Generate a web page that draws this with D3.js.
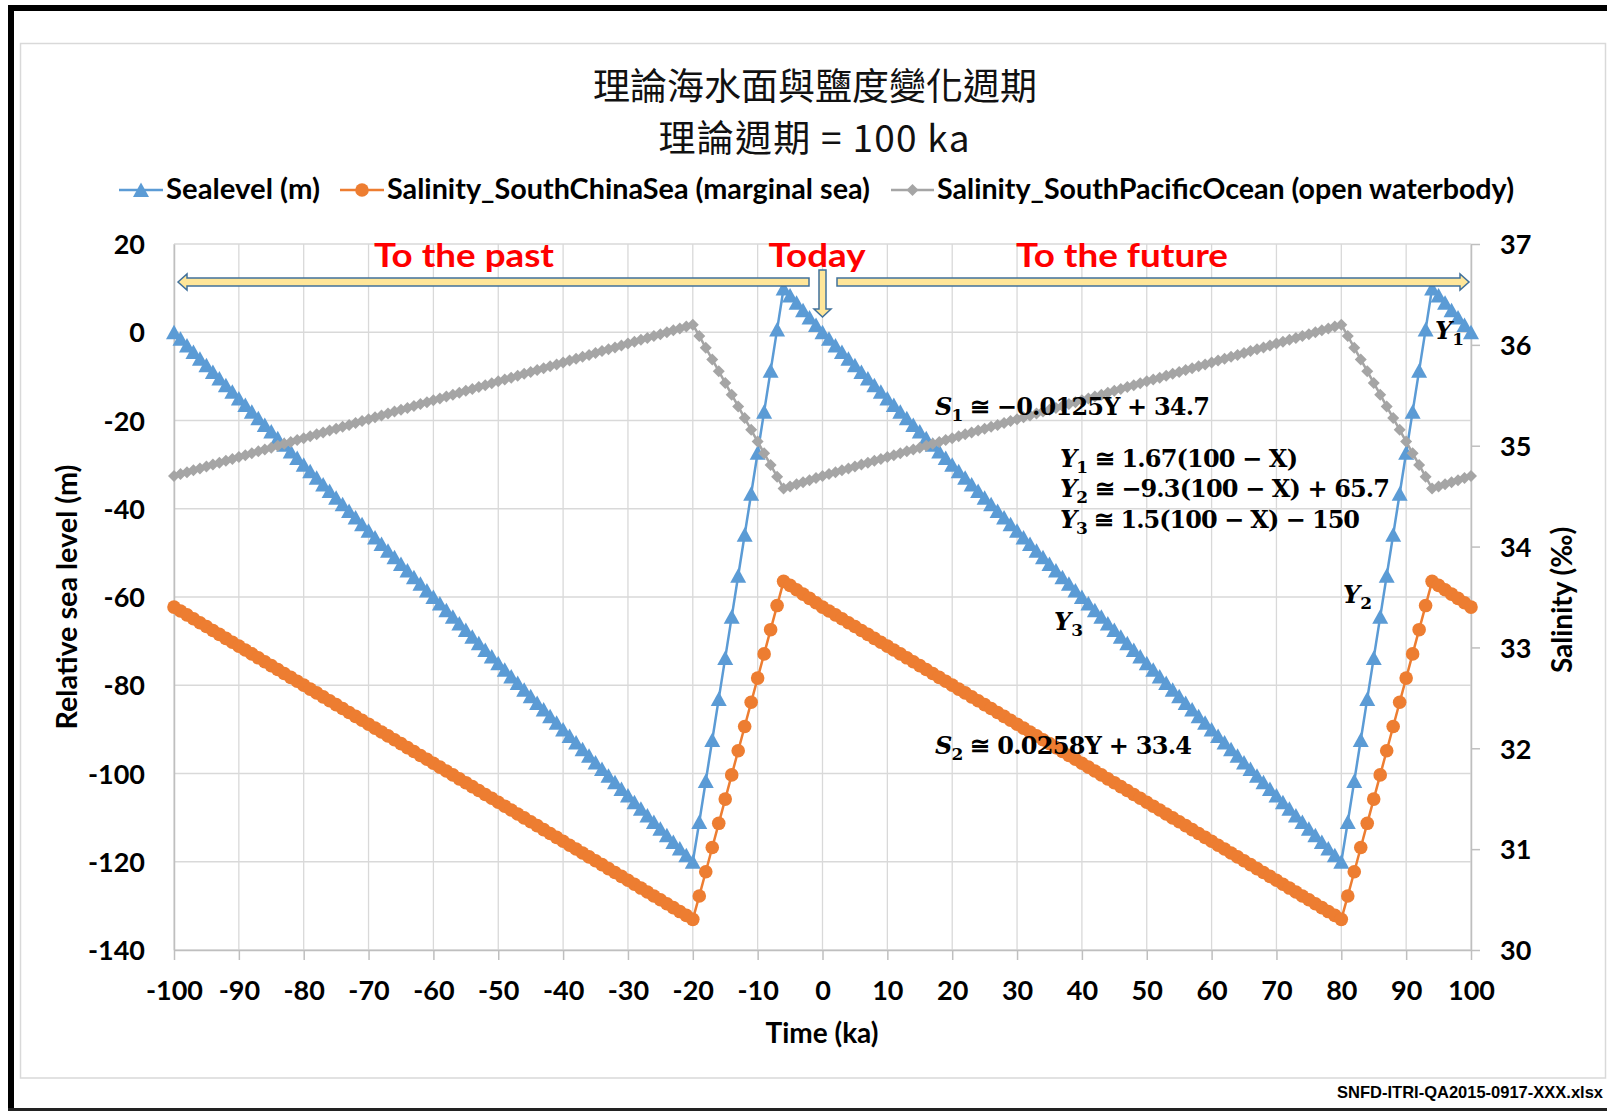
<!DOCTYPE html>
<html><head><meta charset="utf-8">
<script src="https://cdn.jsdelivr.net/npm/d3@7"></script>
<style>body{margin:0;background:#fff}svg{display:block}</style>
</head><body>
<svg id="chart" width="1607" height="1111"></svg>
<script>
// ---------------- DATA ----------------
const time = [-100,-99,-98,-97,-96,-95,-94,-93,-92,-91,-90,-89,-88,-87,-86,-85,-84,-83,-82,-81,-80,-79,-78,-77,-76,-75,-74,-73,-72,-71,-70,-69,-68,-67,-66,-65,-64,-63,-62,-61,-60,-59,-58,-57,-56,-55,-54,-53,-52,-51,-50,-49,-48,-47,-46,-45,-44,-43,-42,-41,-40,-39,-38,-37,-36,-35,-34,-33,-32,-31,-30,-29,-28,-27,-26,-25,-24,-23,-22,-21,-20,-19,-18,-17,-16,-15,-14,-13,-12,-11,-10,-9,-8,-7,-6,-5,-4,-3,-2,-1,0,1,2,3,4,5,6,7,8,9,10,11,12,13,14,15,16,17,18,19,20,21,22,23,24,25,26,27,28,29,30,31,32,33,34,35,36,37,38,39,40,41,42,43,44,45,46,47,48,49,50,51,52,53,54,55,56,57,58,59,60,61,62,63,64,65,66,67,68,69,70,71,72,73,74,75,76,77,78,79,80,81,82,83,84,85,86,87,88,89,90,91,92,93,94,95,96,97,98,99,100];

const sealevel = [0,-1.5,-3,-4.5,-6,-7.5,-9,-10.5,-12,-13.5,-15,-16.5,-18,-19.5,-21,-22.5,-24,-25.5,-27,-28.5,-30,-31.5,-33,-34.5,-36,-37.5,-39,-40.5,-42,-43.5,-45,-46.5,-48,-49.5,-51,-52.5,-54,-55.5,-57,-58.5,-60,-61.5,-63,-64.5,-66,-67.5,-69,-70.5,-72,-73.5,-75,-76.5,-78,-79.5,-81,-82.5,-84,-85.5,-87,-88.5,-90,-91.5,-93,-94.5,-96,-97.5,-99,-100.5,-102,-103.5,-105,-106.5,-108,-109.5,-111,-112.5,-114,-115.5,-117,-118.5,-120,
-111,-101.7,-92.4,-83.1,-73.8,-64.5,-55.2,-45.9,-36.6,-27.3,-18,-8.7,0.6,9.9,
8.35,6.68,5.01,3.34,1.67,0,
-1.5,-3,-4.5,-6,-7.5,-9,-10.5,-12,-13.5,-15,-16.5,-18,-19.5,-21,-22.5,-24,-25.5,-27,-28.5,-30,-31.5,-33,-34.5,-36,-37.5,-39,-40.5,-42,-43.5,-45,-46.5,-48,-49.5,-51,-52.5,-54,-55.5,-57,-58.5,-60,-61.5,-63,-64.5,-66,-67.5,-69,-70.5,-72,-73.5,-75,-76.5,-78,-79.5,-81,-82.5,-84,-85.5,-87,-88.5,-90,-91.5,-93,-94.5,-96,-97.5,-99,-100.5,-102,-103.5,-105,-106.5,-108,-109.5,-111,-112.5,-114,-115.5,-117,-118.5,-120,
-111,-101.7,-92.4,-83.1,-73.8,-64.5,-55.2,-45.9,-36.6,-27.3,-18,-8.7,0.6,9.9,
8.35,6.68,5.01,3.34,1.67,0];

const salinitySCS = [33.4,33.361,33.323,33.284,33.245,33.207,33.168,33.129,33.09,33.052,33.013,32.974,32.936,32.897,32.858,32.82,32.781,32.742,32.703,32.665,32.626,32.587,32.549,32.51,32.471,32.433,32.394,32.355,32.316,32.278,32.239,32.2,32.162,32.123,32.084,32.046,32.007,31.968,31.929,31.891,31.852,31.813,31.775,31.736,31.697,31.659,31.62,31.581,31.542,31.504,31.465,31.426,31.388,31.349,31.31,31.272,31.233,31.194,31.155,31.117,31.078,31.039,31.001,30.962,30.923,30.885,30.846,30.807,30.768,30.73,30.691,30.652,30.614,30.575,30.536,30.498,30.459,30.42,30.381,30.343,30.304,
30.536,30.776,31.016,31.256,31.496,31.736,31.976,32.216,32.456,32.696,32.936,33.176,33.415,33.655,
33.615,33.572,33.529,33.486,33.443,33.4,
33.361,33.323,33.284,33.245,33.207,33.168,33.129,33.09,33.052,33.013,32.974,32.936,32.897,32.858,32.82,32.781,32.742,32.703,32.665,32.626,32.587,32.549,32.51,32.471,32.433,32.394,32.355,32.316,32.278,32.239,32.2,32.162,32.123,32.084,32.046,32.007,31.968,31.929,31.891,31.852,31.813,31.775,31.736,31.697,31.659,31.62,31.581,31.542,31.504,31.465,31.426,31.388,31.349,31.31,31.272,31.233,31.194,31.155,31.117,31.078,31.039,31.001,30.962,30.923,30.885,30.846,30.807,30.768,30.73,30.691,30.652,30.614,30.575,30.536,30.498,30.459,30.42,30.381,30.343,30.304,
30.536,30.776,31.016,31.256,31.496,31.736,31.976,32.216,32.456,32.696,32.936,33.176,33.415,33.655,
33.615,33.572,33.529,33.486,33.443,33.4];

const salinitySPO = [34.7,34.719,34.738,34.756,34.775,34.794,34.813,34.831,34.85,34.869,34.888,34.906,34.925,34.944,34.963,34.981,35,35.019,35.038,35.056,35.075,35.094,35.113,35.131,35.15,35.169,35.188,35.206,35.225,35.244,35.263,35.281,35.3,35.319,35.338,35.356,35.375,35.394,35.413,35.431,35.45,35.469,35.488,35.506,35.525,35.544,35.563,35.581,35.6,35.619,35.638,35.656,35.675,35.694,35.713,35.731,35.75,35.769,35.788,35.806,35.825,35.844,35.863,35.881,35.9,35.919,35.938,35.956,35.975,35.994,36.013,36.031,36.05,36.069,36.088,36.106,36.125,36.144,36.163,36.181,36.2,
36.088,35.971,35.855,35.739,35.623,35.506,35.39,35.274,35.158,35.041,34.925,34.809,34.693,34.576,
34.596,34.617,34.637,34.658,34.679,34.7,
34.719,34.738,34.756,34.775,34.794,34.813,34.831,34.85,34.869,34.888,34.906,34.925,34.944,34.963,34.981,35,35.019,35.038,35.056,35.075,35.094,35.113,35.131,35.15,35.169,35.188,35.206,35.225,35.244,35.263,35.281,35.3,35.319,35.338,35.356,35.375,35.394,35.413,35.431,35.45,35.469,35.488,35.506,35.525,35.544,35.563,35.581,35.6,35.619,35.638,35.656,35.675,35.694,35.713,35.731,35.75,35.769,35.788,35.806,35.825,35.844,35.863,35.881,35.9,35.919,35.938,35.956,35.975,35.994,36.013,36.031,36.05,36.069,36.088,36.106,36.125,36.144,36.163,36.181,36.2,
36.088,35.971,35.855,35.739,35.623,35.506,35.39,35.274,35.158,35.041,34.925,34.809,34.693,34.576,
34.596,34.617,34.637,34.658,34.679,34.7];

const xTicks = [-100,-90,-80,-70,-60,-50,-40,-30,-20,-10,0,10,20,30,40,50,60,70,80,90,100];
const leftTicks = [-140,-120,-100,-80,-60,-40,-20,0,20];
const rightTicks = [30,31,32,33,34,35,36,37];

const seriesNames = ["Sealevel (m)", "Salinity_SouthChinaSea (marginal sea)", "Salinity_SouthPacificOcean (open waterbody)"];
const seriesColors = ["#5B9BD5", "#ED7D31", "#A5A5A5"];

const titleLines = ["理論海水面與鹽度變化週期", "理論週期 = 100 ka"];
const xAxisTitle = "Time (ka)";
const yLeftTitle = "Relative sea level (m)";
const yRightTitle = "Salinity (‰)";
const periodLabels = ["To the past", "Today", "To the future"];
const footer = "SNFD-ITRI-QA2015-0917-XXX.xlsx";

// ---------------- CHART ----------------
const W = 1607, H = 1111;
const M = {l:174, r:1471, t:244, b:950};
const UI = "Lato, 'Open Sans', 'Liberation Sans', sans-serif";
const MATH = "'DejaVu Serif', 'Liberation Serif', serif";
const CJK = "'Noto Sans CJK TC','Noto Sans CJK SC',sans-serif";
const svg = d3.select("#chart");
const fmt = d => (d < 0 ? "-" + Math.abs(d) : String(d));

const x = d3.scaleLinear().domain([-100,100]).range([M.l, M.r]);
const yL = d3.scaleLinear().domain([-140,20]).range([M.b, M.t]);
const yR = d3.scaleLinear().domain([30,37]).range([M.b, M.t]);

svg.append("rect").attr("width",W).attr("height",H).attr("fill","#fff");
// outer frame
svg.append("rect").attr("x",20.5).attr("y",43.5).attr("width",1585).attr("height",1034.5)
  .attr("fill","none").attr("stroke","#d9d9d9").attr("stroke-width",1.5);
svg.append("rect").attr("x",8).attr("y",5).attr("width",W-8).attr("height",6).attr("fill","#000");
svg.append("rect").attr("x",8).attr("y",5).attr("width",6).attr("height",H-5).attr("fill","#000");
svg.append("rect").attr("x",8).attr("y",H-3).attr("width",W-8).attr("height",3).attr("fill","#222");

// gridlines
const grid = svg.append("g");
grid.selectAll("line.v").data(xTicks).join("line").attr("class","v")
  .attr("x1",d=>x(d)).attr("x2",d=>x(d)).attr("y1",M.t).attr("y2",M.b)
  .attr("stroke","#d9d9d9").attr("stroke-width",1.3);
grid.selectAll("line.h").data(leftTicks).join("line").attr("class","h")
  .attr("x1",M.l).attr("x2",M.r).attr("y1",d=>yL(d)).attr("y2",d=>yL(d))
  .attr("stroke","#d9d9d9").attr("stroke-width",1.3);

function styleAxis(g){
  g.attr("font-family",UI).attr("font-size",27).attr("font-weight","bold");
  g.select(".domain").attr("stroke","#bfbfbf").attr("stroke-width",1.5);
  g.selectAll(".tick line").attr("stroke","#bfbfbf").attr("stroke-width",1.5);
  g.selectAll(".tick text").attr("fill","#000");
}
const gx = svg.append("g").attr("transform",`translate(0,${M.b})`)
  .call(d3.axisBottom(x).tickValues(xTicks).tickFormat(fmt).tickSize(10).tickSizeOuter(0));
styleAxis(gx);
gx.selectAll(".tick text").attr("y",50).attr("dy",0);

const gl = svg.append("g").attr("transform",`translate(${M.l},0)`)
  .call(d3.axisLeft(yL).tickValues(leftTicks).tickFormat(fmt).tickSize(0).tickSizeOuter(0).tickPadding(29));
styleAxis(gl);
gl.selectAll(".tick text").attr("dy","0.36em");

const gr = svg.append("g").attr("transform",`translate(${M.r},0)`)
  .call(d3.axisRight(yR).tickValues(rightTicks).tickFormat(fmt).tickSize(9).tickSizeOuter(0).tickPadding(20));
styleAxis(gr);
gr.selectAll(".tick text").attr("dy","0.36em");

// axis titles
svg.append("text").attr("x",822).attr("y",1043).attr("text-anchor","middle")
  .attr("font-family",UI).attr("font-size",28).attr("font-weight","bold").text(xAxisTitle);
svg.append("text").attr("transform","translate(77,597) rotate(-90)").attr("text-anchor","middle")
  .attr("font-family",UI).attr("font-size",28).attr("font-weight","bold")
  .attr("textLength",265).attr("lengthAdjust","spacingAndGlyphs").text(yLeftTitle);
svg.append("text").attr("transform","translate(1572,600) rotate(-90)").attr("text-anchor","middle")
  .attr("font-family",UI).attr("font-size",28).attr("font-weight","bold").text(yRightTitle);

// marker symbols
const symTri = "M0,-7.5L8,7L-8,7Z";
const symDia = "M0,-6L6,0L0,6L-6,0Z";
function marker(sel, kind, color){
  if(kind===0) sel.append("path").attr("d",symTri).attr("fill",color);
  else if(kind===1) sel.append("circle").attr("r",6.8).attr("fill",color);
  else sel.append("path").attr("d",symDia).attr("fill",color);
}

// series
const series = [
  {vals: sealevel, y: yL},
  {vals: salinitySCS, y: yR},
  {vals: salinitySPO, y: yR}
];
series.forEach((s,i)=>{
  const pts = time.map((t,j)=>[x(t), s.y(s.vals[j])]);
  const g = svg.append("g");
  g.append("path").attr("d", d3.line()(pts)).attr("fill","none")
    .attr("stroke",seriesColors[i]).attr("stroke-width",2.5).attr("stroke-linejoin","round");
  pts.forEach(p=>{
    const m = g.append("g").attr("transform",`translate(${p[0]},${p[1]})`);
    marker(m, i, seriesColors[i]);
  });
});

// title
svg.append("text").attr("x",815).attr("y",84).attr("text-anchor","middle").attr("dominant-baseline","central")
  .attr("font-family",CJK).attr("font-size",37).attr("font-weight",400)
  .attr("fill","#111").text(titleLines[0]);
svg.append("text").attr("x",814).attr("y",136).attr("text-anchor","middle").attr("dominant-baseline","central")
  .attr("font-family",CJK).attr("font-size",37).attr("font-weight",400)
  .attr("fill","#111").attr("textLength",311).text(titleLines[1]);

// legend
const legendPos = [{x0:119,x1:163,tx:166,tw:154},{x0:340,x1:384,tx:387,tw:483},{x0:891,x1:934,tx:937,tw:577}];
seriesNames.forEach((name,i)=>{
  const p = legendPos[i];
  const g = svg.append("g");
  g.append("line").attr("x1",p.x0).attr("x2",p.x1).attr("y1",190).attr("y2",190)
    .attr("stroke",seriesColors[i]).attr("stroke-width",2.5);
  const m = g.append("g").attr("transform",`translate(${(p.x0+p.x1)/2},190)`);
  marker(m, i, seriesColors[i]);
  g.append("text").attr("x",p.tx).attr("y",199).attr("font-family",UI).attr("font-size",28)
    .attr("font-weight","bold").attr("fill","#000")
    .attr("textLength",p.tw).attr("lengthAdjust","spacingAndGlyphs").text(name);
});

// arrows
const arrowStyle = g => g.attr("fill","#FFE699").attr("stroke","#41719C").attr("stroke-width",1.5).attr("stroke-linejoin","miter");
svg.append("path").attr("d","M178,282L187,274L187,278L809,278L809,286L187,286L187,290Z").call(arrowStyle);
svg.append("path").attr("d","M837,278L1460,278L1460,274L1469,282L1460,290L1460,286L837,286Z").call(arrowStyle);
svg.append("path").attr("d","M819,270L826,270L826,309L831,309L822.5,317L814,309L819,309Z").call(arrowStyle);

// period labels
const labPos = [{x:464,w:180},{x:817,w:97},{x:1122,w:212}];
periodLabels.forEach((t,i)=>{
  svg.append("text").attr("x",labPos[i].x).attr("y",267).attr("text-anchor","middle")
    .attr("font-family",UI).attr("font-size",32).attr("font-weight","bold").attr("fill","#FF0000")
    .attr("textLength",labPos[i].w).attr("lengthAdjust","spacingAndGlyphs").text(t);
});

// equations
function eq(x0, y0, parts, tw){
  const t = svg.append("text").attr("x",x0).attr("y",y0).attr("font-family",MATH)
    .attr("font-size",24).attr("font-weight","bold").attr("fill","#000");
  parts.forEach(p=>{
    const s = t.append("tspan").text(p[0]);
    if(p[1]==="v") s.attr("font-style","italic");
    if(p[1]==="sub") s.attr("font-size",17).attr("dy",6);
    if(p[1]==="after") s.attr("dy",-6);
  });
  if(tw) t.attr("textLength",tw);
  return t;
}
eq(935,415,[["S","v"],["1","sub"],["  ≅ −0.0125Y + 34.7","after"]],275);
eq(1060,467,[["Y","v"],["1","sub"],["  ≅ 1.67(100 − X)","after"]],238);
eq(1060,497,[["Y","v"],["2","sub"],["  ≅ −9.3(100 − X) + 65.7","after"]],330);
eq(1060,528,[["Y","v"],["3","sub"],["  ≅ 1.5(100 − X) − 150","after"]],300);
eq(935,754,[["S","v"],["2","sub"],["  ≅ 0.0258Y + 33.4","after"]],257);
eq(1054,630,[["Y","v"],["3","sub"]]);
eq(1343,603,[["Y","v"],["2","sub"]]);
eq(1435,339,[["Y","v"],["1","sub"]]);

// footer
svg.append("text").attr("x",1603).attr("y",1098).attr("text-anchor","end")
  .attr("font-family","'Liberation Sans', Arial, sans-serif").attr("font-size",16.5).attr("font-weight","bold")
  .attr("fill","#000").text(footer);
</script>
</body></html>
